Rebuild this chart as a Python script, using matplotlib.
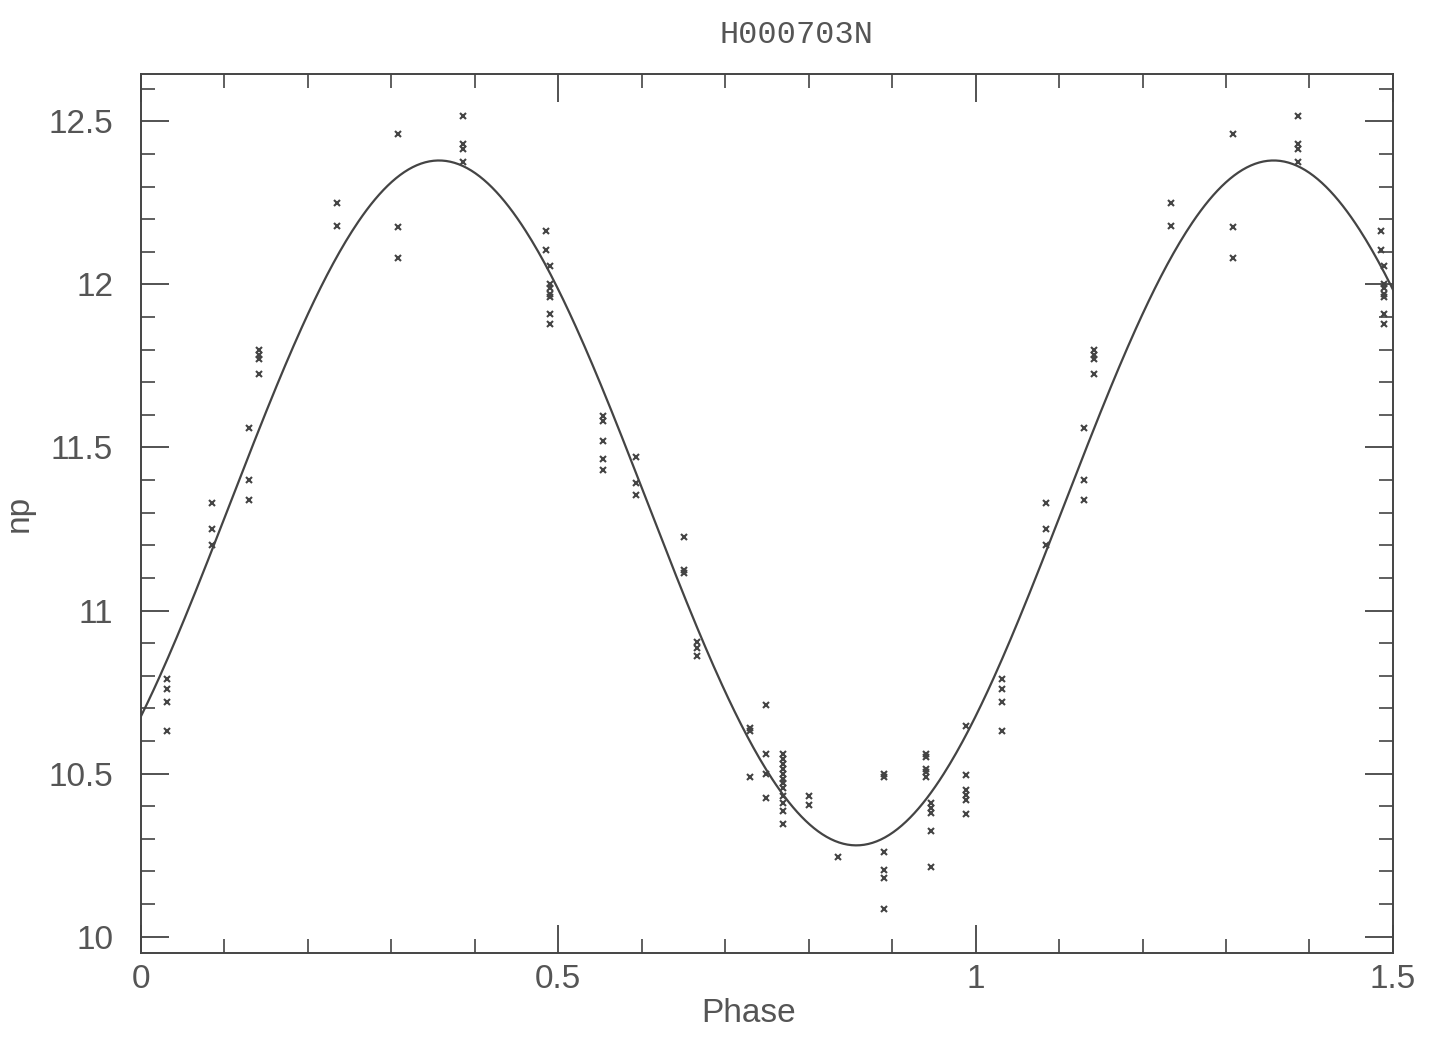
import numpy as np
import matplotlib.pyplot as plt
from matplotlib.ticker import MultipleLocator

# observed phases and magnitudes (one cycle, phase 0..1)
phase = [0.0315, 0.0315, 0.0315, 0.0315,
         0.0847, 0.0847, 0.0847,
         0.1298, 0.1298, 0.1298,
         0.1418, 0.1418, 0.1418, 0.1418,
         0.2344, 0.2344,
         0.3083, 0.3083, 0.3083,
         0.3862, 0.3862, 0.3862, 0.3862,
         0.4855, 0.4855,
         0.4895, 0.4895, 0.4895, 0.4895, 0.4895, 0.4895, 0.4895,
         0.5531, 0.5531, 0.5531, 0.5531, 0.5531,
         0.5926, 0.5926, 0.5926,
         0.6510, 0.6510, 0.6510,
         0.6657, 0.6657, 0.6657,
         0.7296, 0.7296, 0.7296,
         0.7484, 0.7484, 0.7484, 0.7484,
         0.7688, 0.7688, 0.7688, 0.7688, 0.7688, 0.7688,
         0.7688, 0.7688, 0.7688, 0.7688, 0.7688, 0.7688,
         0.8003, 0.8003,
         0.8346,
         0.8900, 0.8900, 0.8900, 0.8900, 0.8900, 0.8900,
         0.9405, 0.9405, 0.9405, 0.9405, 0.9405,
         0.9460, 0.9460, 0.9460, 0.9460, 0.9460,
         0.9890, 0.9890, 0.9890, 0.9890, 0.9890, 0.9890]
mag = [10.79, 10.76, 10.72, 10.63,
       11.33, 11.25, 11.20,
       11.56, 11.40, 11.34,
       11.80, 11.785, 11.77, 11.725,
       12.25, 12.18,
       12.46, 12.175, 12.08,
       12.515, 12.43, 12.415, 12.375,
       12.165, 12.105,
       12.055, 12.00, 11.99, 11.97, 11.96, 11.91, 11.88,
       11.595, 11.58, 11.52, 11.465, 11.43,
       11.47, 11.39, 11.355,
       11.225, 11.125, 11.115,
       10.905, 10.885, 10.86,
       10.64, 10.63, 10.49,
       10.71, 10.56, 10.50, 10.425,
       10.56, 10.545, 10.53, 10.515, 10.50, 10.485,
       10.47, 10.455, 10.43, 10.41, 10.385, 10.345,
       10.43, 10.405,
       10.245,
       10.50, 10.49, 10.26, 10.205, 10.18, 10.085,
       10.56, 10.55, 10.515, 10.505, 10.49,
       10.41, 10.395, 10.38, 10.325, 10.215,
       10.645, 10.495, 10.45, 10.435, 10.42, 10.375]

# fitted light curve (Fourier terms)
fit_mean = 11.33
fit_amp = [1.05]
fit_peak = [0.357]

phase = np.array(phase)
mag = np.array(mag)
# repeat first half of the cycle after phase 1
rep = phase < 0.5
px = np.concatenate([phase, phase[rep] + 1])
py = np.concatenate([mag, mag[rep]])

grid = np.linspace(0, 1.5, 600)
curve = fit_mean + sum(a * np.cos(2 * np.pi * (k + 1) * (grid - p))
                       for k, (a, p) in enumerate(zip(fit_amp, fit_peak)))

col = '#444444'
txtcol = '#555555'
plt.rcParams['font.family'] = ['Liberation Sans', 'DejaVu Sans']

fig = plt.figure(figsize=(14.3, 10.43), dpi=100)
ax = fig.add_axes([0.0986, 0.0863, 0.8755, 0.8427])

ax.plot(grid, curve, color=col, lw=1.6)
ax.plot(px, py, ls='none', marker='x', ms=5, mew=1.5, color=col)

ax.set_xlim(0, 1.5)
ax.set_ylim(9.95, 12.645)
ax.xaxis.set_major_locator(MultipleLocator(0.5))
ax.xaxis.set_minor_locator(MultipleLocator(0.1))
ax.yaxis.set_major_locator(MultipleLocator(0.5))
ax.yaxis.set_minor_locator(MultipleLocator(0.1))
ax.xaxis.set_major_formatter(plt.FuncFormatter(lambda v, _: f'{v:g}'))
ax.yaxis.set_major_formatter(plt.FuncFormatter(lambda v, _: f'{v:g}'))
ax.tick_params(which='both', direction='in', top=True, right=True,
               colors=col, labelsize=24, labelcolor=txtcol)
ax.tick_params(which='major', length=20, width=1.3)
ax.tick_params(which='minor', length=10, width=1.2)
ax.tick_params(axis='y', which='major', pad=20)
ax.tick_params(axis='x', which='major', pad=8)
for s in ax.spines.values():
    s.set_color(col)
    s.set_linewidth(1.4)

ax.set_xlabel('Phase', fontsize=24, color=txtcol, labelpad=2)
ax.xaxis.label.set_x(0.485)
ax.set_ylabel('np', fontsize=24, color=txtcol, labelpad=10)
fig.text(0.557, 0.966, 'H000703N', fontsize=23, color=txtcol,
         ha='center', va='center', family='Liberation Mono')

plt.savefig('out.png')
